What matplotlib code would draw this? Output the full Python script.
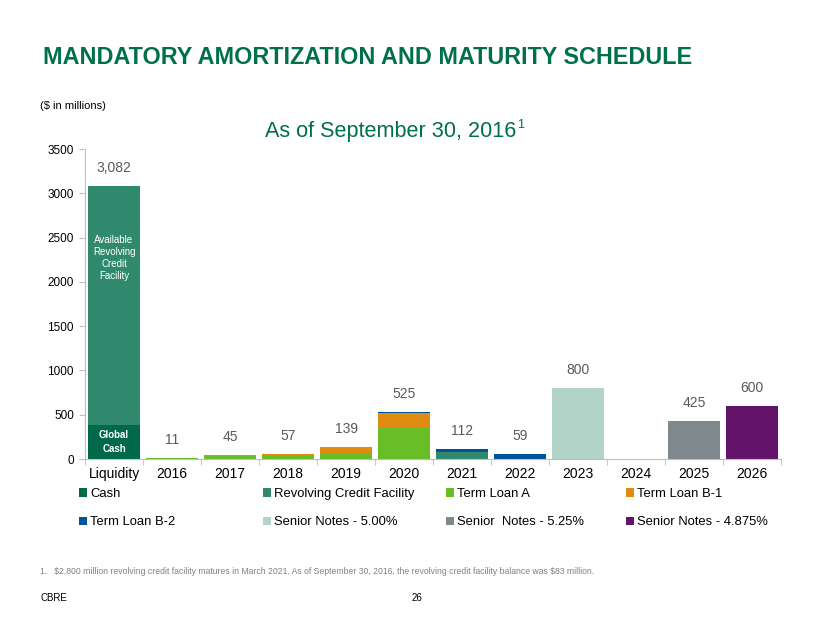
import matplotlib
matplotlib.use("Agg")
import matplotlib.pyplot as plt
import numpy as np
from matplotlib.ticker import FixedLocator

plt.rcParams["font.family"] = ["Liberation Sans", "DejaVu Sans"]

# $ in millions, as of September 30, 2016
categories = ["Liquidity", "2016", "2017", "2018", "2019", "2020",
              "2021", "2022", "2023", "2024", "2025", "2026"]
cash = [382, 0, 0, 0, 0, 0, 0, 0, 0, 0, 0, 0]
revolver = [2700, 0, 0, 0, 0, 0, 83, 0, 0, 0, 0, 0]
term_loan_a = [0, 9, 31, 41, 68, 351, 0, 0, 0, 0, 0, 0]
term_loan_b1 = [0, 1, 10, 12, 63, 170, 0, 0, 0, 0, 0, 0]
term_loan_b2 = [0, 1, 4, 4, 8, 4, 29, 59, 0, 0, 0, 0]
notes_500 = [0, 0, 0, 0, 0, 0, 0, 0, 800, 0, 0, 0]
notes_525 = [0, 0, 0, 0, 0, 0, 0, 0, 0, 0, 425, 0]
notes_4875 = [0, 0, 0, 0, 0, 0, 0, 0, 0, 0, 0, 600]

series = [
    ("Cash", cash, "#00694A"),
    ("Revolving Credit Facility", revolver, "#30896D"),
    ("Term Loan A", term_loan_a, "#69BE28"),
    ("Term Loan B-1", term_loan_b1, "#E08B12"),
    ("Term Loan B-2", term_loan_b2, "#00529B"),
    ("Senior Notes - 5.00%", notes_500, "#B2D3C8"),
    ("Senior  Notes - 5.25%", notes_525, "#7F888D"),
    ("Senior Notes - 4.875%", notes_4875, "#63146A"),
]

green = "#00704A"
fig = plt.figure(figsize=(8.3, 6.23), dpi=100)
ax = fig.add_axes([85 / 830, 1 - 459 / 623, 696 / 830, 310 / 623])

x = np.arange(len(categories))
bottom = np.zeros(len(categories))
handles = {}
for name, vals, color in series:
    v = np.array(vals, dtype=float)
    b = ax.bar(x, v, 0.88, bottom=bottom, color=color, linewidth=0, label=name)
    handles[name] = b
    bottom += v

# total labels
for xi, tot in zip(x, bottom):
    if tot <= 0:
        continue
    ax.annotate(f"{int(tot):,}", (xi, tot), xytext=(0, 8), textcoords="offset points",
                ha="center", va="bottom", fontsize=10, color="#595959")

# text inside the liquidity bar
ax.text(0, cash[0] + revolver[0] * 0.7, "Available\nRevolving\nCredit\nFacility",
        ha="center", va="center", fontsize=7, color="white", linespacing=1.25)
ax.text(0, cash[0] / 2, "Global\nCash", ha="center", va="center", fontsize=7,
        color="white", fontweight="bold", linespacing=1.4)

ax.set_xlim(-0.5, len(categories) - 0.5)
ax.set_ylim(0, 3500)
ax.set_yticks(np.arange(0, 3501, 500))
ax.set_xticks(x)
ax.set_xticklabels(categories, fontsize=10)
ax.tick_params(axis="x", which="major", length=0, pad=6)
ax.xaxis.set_minor_locator(FixedLocator(np.arange(-0.5, len(categories), 1.0)))
ax.tick_params(axis="x", which="minor", length=4, color="#BFBFBF")
ax.tick_params(axis="y", labelsize=8.5, length=4, color="#BFBFBF", pad=4)
for s in ("top", "right"):
    ax.spines[s].set_visible(False)
for s in ("left", "bottom"):
    ax.spines[s].set_color("#BFBFBF")

# legend: four columns of two rows
cols = [("Cash", "Term Loan B-2"),
        ("Revolving Credit Facility", "Senior Notes - 5.00%"),
        ("Term Loan A", "Senior  Notes - 5.25%"),
        ("Term Loan B-1", "Senior Notes - 4.875%")]
col_x = [70, 254, 437, 617]
for cx, names in zip(col_x, cols):
    fig.legend([handles[n] for n in names], names, loc="upper left",
               bbox_to_anchor=(cx / 830, 1 - 479 / 623), frameon=False,
               fontsize=9.4, handlelength=0.6, handleheight=0.6,
               handletextpad=0.25, labelspacing=1.25, borderpad=0.2)

fig.text(43 / 830, 1 - 57 / 623, "MANDATORY AMORTIZATION AND MATURITY SCHEDULE",
         fontsize=16.8, fontweight="bold", color=green, va="center")
fig.text(40 / 830, 1 - 106 / 623, "($ in millions)", fontsize=8, va="center")
sub = fig.text(265 / 830, 1 - 131 / 623, "As of September 30, 2016", fontsize=15.6,
               color=green, va="center")
# superscript footnote marker right after the subtitle
ax.annotate("1", xy=(1, 0.5), xycoords=sub, xytext=(0.5, 0), textcoords="offset points",
            fontsize=9, color=green, va="bottom", ha="left", annotation_clip=False)
fig.text(40 / 830, 1 - 571 / 623,
         "1.   \\$2,800 million revolving credit facility matures in March 2021. "
         "As of September 30, 2016, the revolving credit facility balance was \\$83 million.",
         fontsize=6.2, color="#808080", va="center")
fig.text(40 / 830, 1 - 598 / 623, "CBRE", fontsize=7, va="center")
fig.text(412 / 830, 1 - 598 / 623, "26", fontsize=7, va="center")

fig.savefig("out.png", dpi=100)
